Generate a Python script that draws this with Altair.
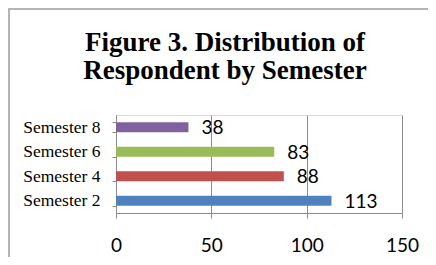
import altair as alt
import pandas as pd

semesters = ["Semester 8", "Semester 6", "Semester 4", "Semester 2"]
counts = [38, 83, 88, 113]
colors = ["#7F63A1", "#9ABB59", "#C0504D", "#4F81BD"]
x_ticks = [0, 50, 100, 150]

df = pd.DataFrame({"semester": semesters, "count": counts})

axis_gray = "#8c8c8c"

base = alt.Chart(df).encode(
    y=alt.Y(
        "semester:N",
        sort=semesters,
        scale=alt.Scale(paddingInner=0.6, paddingOuter=0.3),
        axis=alt.Axis(
            title=None,
            tickBand="extent",
            tickSize=4,
            tickColor=axis_gray,
            domainColor=axis_gray,
            labelFont="Liberation Serif",
            labelFontSize=17.5,
            labelColor="black",
            labelPadding=12,
        ),
    ),
    x=alt.X(
        "count:Q",
        scale=alt.Scale(domain=[0, 150], nice=False),
        axis=alt.Axis(
            title=None,
            values=x_ticks,
            grid=True,
            gridColor=axis_gray,
            domainColor=axis_gray,
            tickColor=axis_gray,
            tickSize=5,
            labelFont="Lato",
            labelFontSize=19,
            labelColor="black",
            labelPadding=18,
            labelFlush=False,
        ),
    ),
)

bars = base.mark_bar().encode(
    color=alt.Color(
        "semester:N",
        scale=alt.Scale(domain=semesters, range=colors),
        legend=None,
    )
)

labels = base.mark_text(
    align="left", baseline="middle", dx=13, dy=1, font="Lato", fontSize=19, color="black"
).encode(text="count:Q")

border_left = alt.Chart(df).mark_rule(color="#b4b4b4", strokeWidth=2).encode(
    x=alt.value(-107), y=alt.value(-107), y2=alt.value(160)
)
border_top = alt.Chart(df).mark_rule(color="#b4b4b4", strokeWidth=2).encode(
    x=alt.value(-107), x2=alt.value(330), y=alt.value(-106)
)

chart = (
    alt.layer(bars, labels, border_left, border_top)
    .properties(
        width=286,
        height=98,
        title=alt.Title(
            ["Figure 3. Distribution of", "Respondent by Semester"],
            font="Liberation Serif",
            fontSize=27,
            fontWeight="bold",
            color="black",
            anchor="middle",
            baseline="bottom",
            dx=-34,
            dy=105,
            offset=0,
            lineHeight=28,
        ),
        autosize=alt.AutoSizeParams(type="none"),
        padding={"left": 108, "top": 107, "right": 26, "bottom": 44},
    )
    .configure_view(stroke=None)
    .configure(background="white")
)

chart.save("out.html", embed_options={"renderer": "svg", "actions": False})
